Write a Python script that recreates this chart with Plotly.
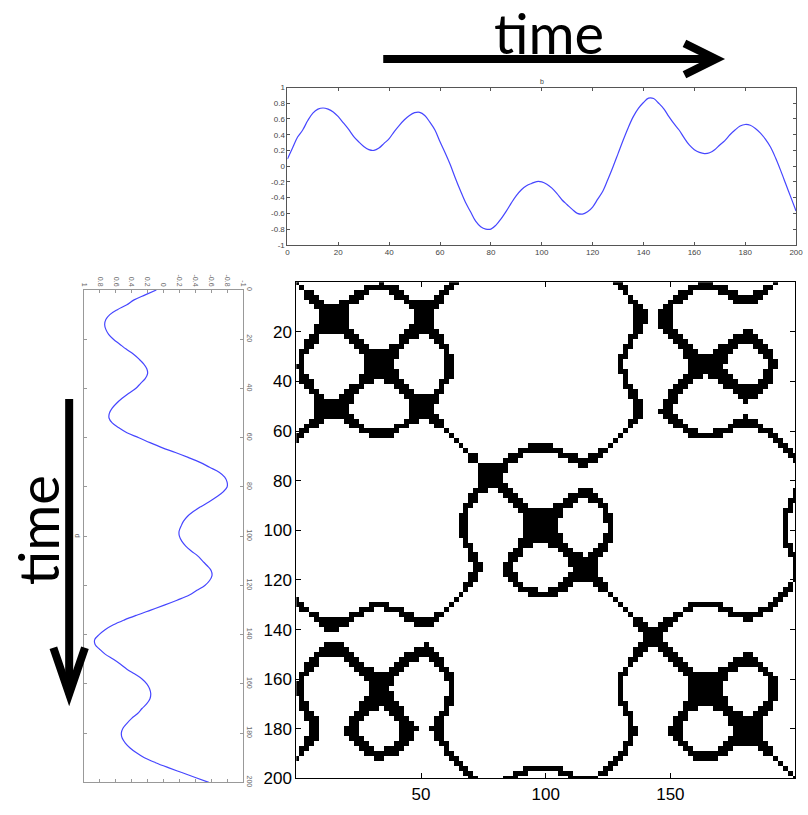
import numpy as np
import plotly.graph_objects as go

W, H = 808, 815

# time samples and signal values
t = list(range(0, 201, 2))
v = [0.09, 0.23, 0.37, 0.46, 0.58, 0.675, 0.725, 0.74, 0.725, 0.69,
     0.63, 0.55, 0.47, 0.38, 0.31, 0.25, 0.21, 0.20, 0.23, 0.29,
     0.35, 0.44, 0.52, 0.59, 0.645, 0.68, 0.685, 0.645, 0.56, 0.46,
     0.31, 0.17, 0.02, -0.15, -0.31, -0.46, -0.58, -0.70, -0.77, -0.80,
     -0.80, -0.75, -0.67, -0.575, -0.47, -0.375, -0.30, -0.25, -0.22, -0.196,
     -0.20, -0.23, -0.28, -0.35, -0.43, -0.49, -0.55, -0.60, -0.61, -0.58,
     -0.52, -0.42, -0.32, -0.17, -0.01, 0.16, 0.33, 0.49, 0.63, 0.735,
     0.81, 0.865, 0.86, 0.80, 0.73, 0.63, 0.54, 0.46, 0.36, 0.27,
     0.21, 0.175, 0.16, 0.17, 0.21, 0.27, 0.325, 0.40, 0.46, 0.51,
     0.53, 0.52, 0.48, 0.42, 0.34, 0.24, 0.10, -0.06, -0.23, -0.40,
     -0.57]

eps = 0.12  # recurrence threshold

sig_ticks = [-1, -0.8, -0.6, -0.4, -0.2, 0, 0.2, 0.4, 0.6, 0.8, 1]
sig_ticktext = ["-1", "-0.8", "-0.6", "-0.4", "-0.2", "0", "0.2", "0.4", "0.6", "0.8", "1"]
time_ticks = [0, 20, 40, 60, 80, 100, 120, 140, 160, 180, 200]
rp_xticks = [50, 100, 150, 200]
rp_yticks = [20, 40, 60, 80, 100, 120, 140, 160, 180, 200]

vv = np.array(v)
rec = (np.abs(vv[:, None] - vv[None, :]) < eps).astype(int)


def px(x):
    return x / W


def py(y):
    return 1 - y / H


line_blue = dict(color="#4646ff", width=1.2, shape="spline")

fig = go.Figure()
fig.add_trace(go.Scatter(x=t, y=v, mode="lines", line=line_blue,
                         xaxis="x", yaxis="y", showlegend=False))
fig.add_trace(go.Scatter(x=v, y=t, mode="lines", line=line_blue,
                         xaxis="x2", yaxis="y2", showlegend=False))
fig.add_trace(go.Heatmap(x=t, y=t, z=rec, zmin=0, zmax=1,
                         colorscale=[[0, "white"], [1, "black"]],
                         showscale=False, xaxis="x3", yaxis="y3"))

small_font = dict(family="Liberation Sans", size=8, color="#444")
side_font = dict(family="Liberation Sans", size=7, color="#666")
big_font = dict(family="Liberation Sans", size=17, color="black")

common = dict(showgrid=False, zeroline=False, showline=True, mirror="ticks",
              ticks="inside")

fig.update_layout(
    width=W, height=H,
    margin=dict(l=0, r=0, t=0, b=0),
    paper_bgcolor="white", plot_bgcolor="white",
    # signal over time (top)
    xaxis=dict(domain=[px(288), px(803)], anchor="y", range=[0, 200],
               tickvals=time_ticks, ticktext=[str(x) for x in time_ticks],
               ticklen=3, linecolor="#555", tickcolor="#555",
               tickfont=small_font, **common),
    yaxis=dict(domain=[py(245), py(85)], anchor="x", range=[-1, 1],
               tickvals=sig_ticks, ticktext=sig_ticktext,
               ticklen=3, linecolor="#555", tickcolor="#555",
               tickfont=small_font, **common),
    # same signal, time running downwards (left)
    xaxis2=dict(domain=[px(82), px(243)], anchor="y2", range=[1, -1],
                side="top", tickvals=sig_ticks, ticktext=sig_ticktext,
                tickangle=90, ticklen=3, linecolor="#999", tickcolor="#999",
                tickfont=side_font, **common),
    yaxis2=dict(domain=[py(792), py(291)], anchor="x2", range=[200, 0],
                side="right", tickvals=time_ticks,
                ticktext=[str(x) for x in time_ticks],
                tickangle=90, ticklen=3, linecolor="#999", tickcolor="#999",
                tickfont=side_font, **common),
    # recurrence plot
    xaxis3=dict(domain=[px(297), px(802)], anchor="y3", range=[0, 200],
                tickvals=rp_xticks, ticktext=[str(x) for x in rp_xticks],
                ticklen=5, linecolor="black", tickcolor="black",
                tickfont=big_font, **common),
    yaxis3=dict(domain=[py(788), py(283)], anchor="x3", range=[200, 0],
                tickvals=rp_yticks, ticktext=[str(x) for x in rp_yticks],
                ticklen=5, linecolor="black", tickcolor="black",
                tickfont=big_font, **common),
)

fig.add_annotation(text="time", x=px(553), y=py(29), xref="paper", yref="paper",
                   showarrow=False, xanchor="center", yanchor="middle",
                   font=dict(family="Lato", size=56, color="black"))
fig.add_annotation(text="time", x=px(35), y=py(536), xref="paper", yref="paper",
                   showarrow=False, xanchor="center", yanchor="middle",
                   textangle=-90,
                   font=dict(family="Lato", size=56, color="black"))
fig.add_annotation(text="b", x=px(546), y=py(79), xref="paper", yref="paper",
                   showarrow=False, xanchor="center", yanchor="middle",
                   font=dict(family="Liberation Sans", size=7, color="#444"))
fig.add_annotation(text="d", x=px(75), y=py(541), xref="paper", yref="paper",
                   showarrow=False, xanchor="center", yanchor="middle",
                   textangle=90,
                   font=dict(family="Liberation Sans", size=7, color="#666"))

arrow = dict(color="black", width=8)
fig.add_shape(type="line", xref="paper", yref="paper",
              x0=px(385), y0=py(56), x1=px(718), y1=py(56), line=arrow)
fig.add_shape(type="path", xref="paper", yref="paper",
              path=f"M {px(690)},{py(40)} L {px(722)},{py(56)} L {px(690)},{py(72)}",
              line=arrow)
fig.add_shape(type="line", xref="paper", yref="paper",
              x0=px(67), y0=py(402), x1=px(67), y1=py(698), line=arrow)
fig.add_shape(type="path", xref="paper", yref="paper",
              path=f"M {px(51)},{py(655)} L {px(67)},{py(702)} L {px(83)},{py(655)}",
              line=arrow)

fig.write_html("out.html")
